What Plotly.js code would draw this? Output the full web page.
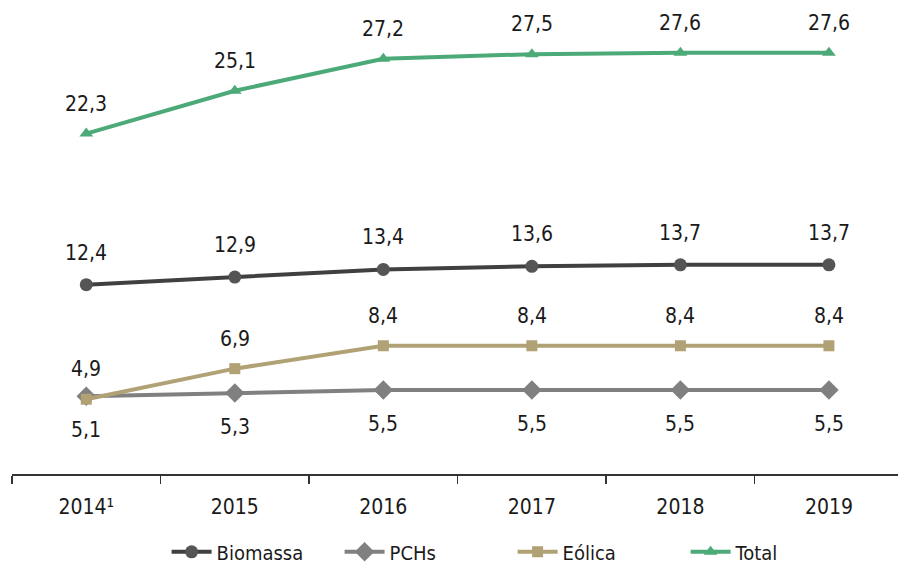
<!DOCTYPE html>
<html>
<head>
<meta charset="utf-8">
<script src="https://cdn.plot.ly/plotly-3.0.1.min.js"></script>
<style>html,body{margin:0;padding:0;background:#fff;}#chart{width:898px;height:565px;}</style>
</head>
<body>
<div id="chart"></div>
<script>
const years = ["2014¹", "2015", "2016", "2017", "2018", "2019"];
const biomassa = [12.4, 12.9, 13.4, 13.6, 13.7, 13.7];
const pchs = [5.1, 5.3, 5.5, 5.5, 5.5, 5.5];
const eolica = [4.9, 6.9, 8.4, 8.4, 8.4, 8.4];
const total = [22.3, 25.1, 27.2, 27.5, 27.6, 27.6];

const FONT = '"DejaVu Sans Condensed", "Liberation Sans Narrow", sans-serif';

const series = [
  {name: "Biomassa", y: biomassa, color: "#404040", mcolor: "#555555", symbol: "circle", size: 13, shift: 32},
  {name: "PCHs", y: pchs, color: "#808080", mcolor: "#808080", symbol: "diamond", size: 15, shift: -34},
  {name: "Eólica", y: eolica, color: "#b0a275", mcolor: "#b0a275", symbol: "square", size: 11, shift: 30},
  {name: "Total", y: total, color: "#4caa78", mcolor: "#4caa78", symbol: "triangle-up", size: 12, shift: 30}
];

const fmt = v => v.toFixed(1).replace(".", ",");

const traces = series.map(s => ({
  type: "scatter", mode: "lines+markers", name: s.name,
  x: years, y: s.y,
  line: {color: s.color, width: 4},
  marker: {color: s.mcolor, symbol: s.symbol, size: s.size},
  hoverinfo: "skip"
}));

const annotations = [];
series.forEach(s => {
  s.y.forEach((v, i) => {
    annotations.push({
      x: i, y: v, xref: "x", yref: "y",
      text: fmt(v), showarrow: false,
      yshift: s.shift,
      font: {family: FONT, size: 21, color: "#1a1a1a"}
    });
  });
});

const layout = {
  width: 898, height: 565,
  margin: {l: 12, r: 0, t: 16, b: 91, autoexpand: false},
  paper_bgcolor: "#fff", plot_bgcolor: "#fff",
  showlegend: true,
  legend: {orientation: "h", x: 0.565, xanchor: "center", y: -0.17, yanchor: "middle",
    font: {family: FONT, size: 20, color: "#1a1a1a"}, itemwidth: 40, entrywidth: 118, tracegroupgap: 0},
  xaxis: {
    type: "category", range: [-0.5, 5.465], automargin: false,
    showline: true, linecolor: "#333", linewidth: 1.5,
    ticks: "outside", tickson: "boundaries", ticklen: 8, tickcolor: "#333", tickwidth: 1.5,
    showgrid: false, zeroline: false,
    tickfont: {family: FONT, size: 21, color: "#1a1a1a"},
    ticklabelstandoff: 13
  },
  yaxis: {range: [0, 30], visible: false, showgrid: false, zeroline: false},
  annotations: annotations
};

Plotly.newPlot("chart", traces, layout, {displayModeBar: false, staticPlot: true});
</script>
</body>
</html>
